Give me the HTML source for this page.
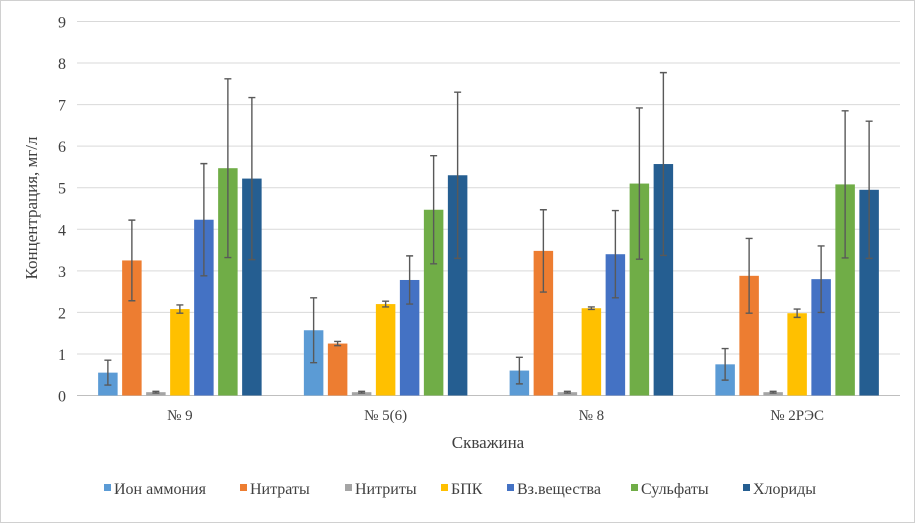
<!DOCTYPE html>
<html><head><meta charset="utf-8"><style>
body{margin:0;background:#fff}
svg text{font-family:"Liberation Serif","DejaVu Serif",serif;fill:#404040}
</style></head><body>
<svg id="c" width="915" height="523">
<rect x="0.5" y="0.5" width="914" height="522" fill="#fff" stroke="#d0d0d0"/>
<g id="grid"></g>
<g id="bars"></g>
<g id="xl"></g>
<text x="37" y="208" font-size="17" text-anchor="middle" transform="rotate(-90 37 208)">Концентрация, мг/л</text>
<text x="488" y="448" font-size="17" text-anchor="middle">Скважина</text>
<g id="leg"></g>
</svg>
<script>
const categories=["№ 9","№ 5(6)","№ 8","№ 2РЭС"];
const seriesNames=["Ион аммония","Нитраты","Нитриты","БПК","Вз.вещества","Сульфаты","Хлориды"];
const colors=["#5b9bd5","#ed7d31","#a5a5a5","#ffc000","#4472c4","#70ad47","#255e91"];
const s0=[0.55,1.57,0.6,0.75], e0=[0.3,0.78,0.32,0.38];
const s1=[3.25,1.25,3.48,2.88], e1=[0.97,0.05,0.99,0.9];
const s2=[0.08,0.08,0.08,0.08], e2=[0.02,0.02,0.02,0.02];
const s3=[2.08,2.2,2.1,1.98], e3=[0.1,0.07,0.03,0.1];
const s4=[4.23,2.78,3.4,2.8], e4=[1.35,0.58,1.05,0.8];
const s5=[5.47,4.47,5.1,5.08], e5=[2.15,1.3,1.82,1.77];
const s6=[5.22,5.3,5.57,4.95], e6=[1.95,2.0,2.2,1.65];
const yTicks=[0,1,2,3,4,5,6,7,8,9];
const S=[s0,s1,s2,s3,s4,s5,s6], E=[e0,e1,e2,e3,e4,e5,e6];
const NS="http://www.w3.org/2000/svg";
const x0=77,x1=900,yb=395.5,yt=21.5,ymax=9;
const y=v=>yb-(yb-yt)*v/ymax;
const cw=(x1-x0)/categories.length;
const cx=i=>x0+cw*(i+0.5);
function mk(t,a,p){const e=document.createElementNS(NS,t);for(const k in a)e.setAttribute(k,a[k]);p.appendChild(e);return e;}
const g=document.getElementById('grid');
yTicks.forEach(v=>{
 const l=mk('line',{x1:x0,x2:x1,y1:y(v),y2:y(v),stroke:v===0?'#bfbfbf':'#d9d9d9'},g);
 
 
 const t=mk('text',{x:62,y:y(v)+6,'font-size':16,'text-anchor':'middle'},g);
 t.textContent=v;
 
 
});
const b=document.getElementById('bars');
const step=24,bw=19.5;
categories.forEach((c,i)=>{
 S.forEach((s,j)=>{
  const bx=cx(i)+(j-3)*step-bw/2;
  const r=mk('rect',{x:bx,y:y(s[i]),width:bw,height:yb-y(s[i]),fill:colors[j]},b);
  
  
  const m=bx+bw/2,hi=y(s[i]+E[j][i]),lo=y(Math.max(0,s[i]-E[j][i]));
  const p=mk('path',{d:`M${m},${hi}V${lo}M${m-3.5},${hi}H${m+3.5}M${m-3.5},${lo}H${m+3.5}`,stroke:'#595959','stroke-width':1.4,fill:'none'},b);
  
  
 });
 const t=mk('text',{x:cx(i),y:420,'font-size':15,'text-anchor':'middle'},document.getElementById('xl'));
 t.textContent=c;
 
 
});
const lg=document.getElementById('leg');
const lx=[104,240,345,441,507,631,743];
seriesNames.forEach((n,j)=>{
 const r=mk('rect',{x:lx[j],y:484,width:7,height:7,fill:colors[j]},lg);
 
 
 const t=mk('text',{x:lx[j]+10,y:494,'font-size':16},lg);
 t.textContent=n;
 
 
});
</script>
</body></html>
